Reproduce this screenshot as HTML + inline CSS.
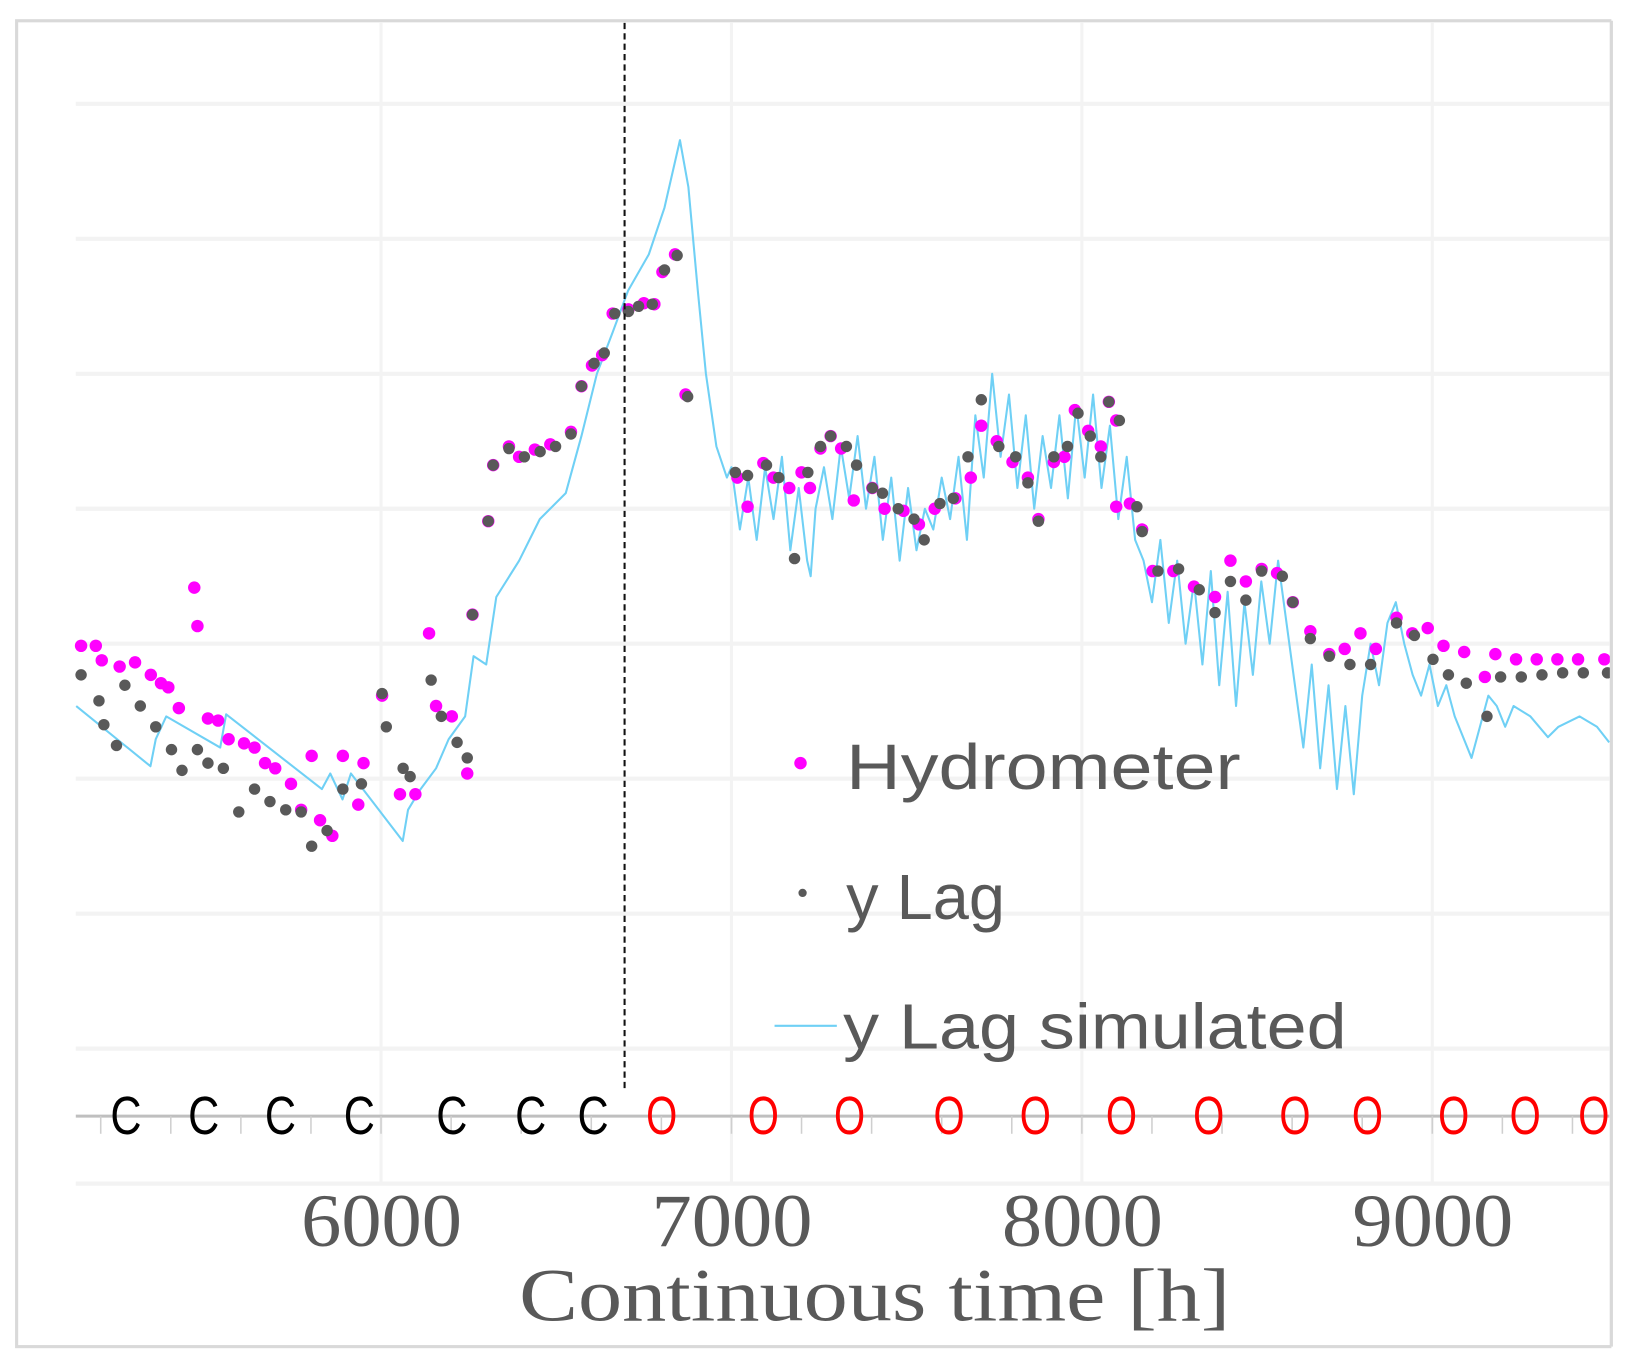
<!DOCTYPE html>
<html><head><meta charset="utf-8"><style>
html,body{margin:0;padding:0;background:#fff;}
svg{display:block;}
</style></head><body>
<svg id="chart" width="1628" height="1357" viewBox="0 0 1568 1307" preserveAspectRatio="none" xmlns="http://www.w3.org/2000/svg">
<rect x="16" y="20" width="1536" height="1277" fill="#fff" stroke="#d9d9d9" stroke-width="3"/>
<g id="grid"></g>
<g id="series"></g>
<g id="axis"></g>
<g id="legend">
<circle cx="771" cy="735" r="6" fill="#ff00ff"/>
<text x="815" y="760" font-family="Liberation Sans, sans-serif" font-size="62" fill="#595959" textLength="380" lengthAdjust="spacingAndGlyphs">Hydrometer</text>
<circle cx="773" cy="860" r="4" fill="#595959"/>
<text x="815" y="885" font-family="Liberation Sans, sans-serif" font-size="62" fill="#595959" textLength="153" lengthAdjust="spacingAndGlyphs">y Lag</text>
<line x1="746" y1="988" x2="806" y2="988" stroke="#6fd0f5" stroke-width="2"/>
<text x="812" y="1010" font-family="Liberation Sans, sans-serif" font-size="62" fill="#595959" textLength="485" lengthAdjust="spacingAndGlyphs">y Lag simulated</text>
</g>
</svg>
<script>
const NS='http://www.w3.org/2000/svg';
// ---- data ----
const xTicks=[6000,7000,8000,9000];
const xTickLabels=['6000','7000','8000','9000'];
const yGrid=[0,130,260,390,520,650,780,910,1040];
const simT=[5130,5342,5357,5387,5541,5558,5831,5855,5890,5914,6062,6077,6113,6157,6193,6240,6264,6300,6329,6394,6453,6527,6572,6616,6661,6705,6764,6809,6853,6877,6904,6927,6957,6987,
7000,7024,7048,7072,7096,7120,7144,7168,7192,7216,7226,7240,7264,7288,7312,7336,7360,7384,7408,7432,7456,7480,7504,7528,7552,7576,7600,7624,7648,7672,7696,7720,7744,7768,7792,7816,7840,7864,7888,7912,7936,7960,7984,8008,8032,8056,8080,8104,8128,8152,8176,8200,8224,8248,8272,8296,8320,8344,8368,8392,8416,8440,8464,8488,8512,8536,8560,8584,8608,8632,8656,8680,8704,8728,8752,8776,8800,8824,8848,8872,8896,8920,8944,8968,8992,9016,9040,9064,9088,9112,9136,9160,9184,9208,9232,9280,9330,9360,9420,9470,9505];
const simV=[460,402,428,450,420,452,380,395,370,395,330,360,380,400,428,450,508,500,565,600,640,665,720,780,820,860,895,940,1005,960,860,780,710,680,
690,630,680,620,690,640,700,610,670,600,585,650,690,640,710,660,720,650,700,620,680,600,670,610,650,630,680,640,700,620,740,680,780,700,760,670,740,650,720,670,740,660,750,680,760,670,730,640,700,620,600,560,620,540,600,520,580,500,590,480,570,460,560,490,580,520,600,540,480,420,500,400,480,380,460,375,470,520,480,540,560,520,490,470,500,460,480,450,430,410,440,470,460,440,460,450,430,440,450,440,425];
const hydT=[5144,5186,5203,5254,5298,5343,5372,5393,5423,5467,5476,5506,5535,5565,5609,5639,5669,5698,5743,5772,5802,5826,5861,5891,5935,5950,6003,6054,6098,6137,6157,6202,6246,6261,6306,6320,6365,6394,6439,6483,6542,6572,6602,6631,6661,6706,6750,6780,6803,6839,6869,7017,7046,7091,7120,7165,7200,7224,7254,7283,7313,7349,7402,7437,7491,7535,7580,7639,7683,7713,7757,7802,7846,7876,7920,7950,7980,8018,8054,8077,8098,8098,8137,8172,8202,8261,8320,8380,8424,8468,8513,8557,8602,8652,8706,8750,8795,8839,8898,8943,8987,9032,9091,9150,9180,9239,9298,9357,9416,9491];
const hydV=[518,518,504,498,502,490,482,478,458,574,537,448,446,428,424,420,405,400,385,360,412,350,335,412,365,405,470,375,375,530,460,450,395,548,638,692,710,700,707,712,724,768,788,798,838,842,848,847,878,895,760,680,652,694,680,670,685,670,708,720,708,658,670,650,648,635,650,660,680,730,715,695,680,640,695,700,745,725,710,753,735,652,655,630,590,590,575,565,600,580,592,588,560,532,510,515,530,515,545,530,535,518,512,488,510,505,505,505,505,505];
const lagT=[5144,5195,5209,5245,5269,5313,5357,5402,5432,5476,5506,5550,5594,5639,5683,5728,5772,5802,5846,5891,5944,6003,6015,6063,6083,6143,6172,6217,6246,6261,6306,6320,6365,6409,6454,6498,6542,6572,6608,6637,6667,6706,6735,6774,6809,6845,6875,7011,7046,7100,7135,7180,7218,7254,7283,7328,7357,7402,7431,7476,7521,7550,7595,7633,7675,7713,7763,7811,7846,7876,7920,7959,7989,8024,8054,8077,8107,8157,8172,8217,8276,8335,8380,8424,8468,8513,8572,8602,8652,8706,8765,8824,8898,8949,9002,9046,9097,9156,9195,9254,9313,9372,9431,9500];
const lagV=[490,465,442,422,480,460,440,418,398,418,405,400,358,380,368,360,358,325,340,380,385,472,440,400,392,485,450,425,410,548,638,692,708,700,705,710,722,768,790,800,838,840,845,847,880,894,758,685,682,692,680,602,685,710,720,710,692,670,665,650,640,620,655,660,700,755,710,700,675,638,700,710,742,720,700,753,735,652,628,590,592,572,550,580,562,590,585,560,525,508,500,500,540,528,505,490,482,450,488,488,490,492,492,492]; 
const coT=[5272,5494,5713,5938,6202,6427,6605,6801,7091,7337,7621,7867,8113,8362,8608,8815,9061,9265,9461];
const coState=['C','C','C','C','C','C','C','O','O','O','O','O','O','O','O','O','O','O','O'];
const minorTicks=[5200,5400,5600,5800,6000,6200,6400,6600,6800,7000,7200,7400,7600,7800,8000,8200,8400,8600,8800,9000,9200,9400];
const switchTime=6695;
// ---- scales ----
const X=t=>367+(t-6000)*0.3375;
const Y=v=>1140-v;
const PL=73,PR=1550;
function mk(tag,attrs,parent){const e=document.createElementNS(NS,tag);for(const k in attrs)e.setAttribute(k,attrs[k]);parent.appendChild(e);return e;}
const grid=document.getElementById('grid'),series=document.getElementById('series'),axis=document.getElementById('axis');
yGrid.forEach(v=>{const l=mk('line',{x1:PL,x2:PR,y1:Y(v),y2:Y(v),stroke:'#f3f3f3','stroke-width':4},grid);

});
xTicks.forEach(t=>{const l=mk('line',{x1:X(t),x2:X(t),y1:22,y2:1140,stroke:'#f3f3f3','stroke-width':3},grid);

});
// simulated line
let d='';simT.forEach((t,i)=>{d+=(i?'L':'M')+X(t).toFixed(1)+','+Y(simV[i]).toFixed(1);});
const pl=mk('path',{d:d,fill:'none',stroke:'#6fd0f5','stroke-width':2,'stroke-linejoin':'round'},series);


hydT.forEach((t,i)=>{const c=mk('circle',{cx:X(t),cy:Y(hydV[i]),r:6,fill:'#ff00ff'},series);

});
lagT.forEach((t,i)=>{const c=mk('circle',{cx:X(t),cy:Y(lagV[i]),r:5.5,fill:'#595959'},series);

});
// dashed switch line
const dl=mk('line',{x1:X(switchTime),x2:X(switchTime),y1:22,y2:1048,stroke:'#111','stroke-width':2,'stroke-dasharray':'6,4'},series);


// axis
const al=mk('line',{x1:PL,x2:PR,y1:1075,y2:1075,stroke:'#bfbfbf','stroke-width':3},axis);


minorTicks.forEach(t=>{const l=mk('line',{x1:X(t),x2:X(t),y1:1075,y2:1092,stroke:'#cfcfcf','stroke-width':1.5},axis);

});
coT.forEach((t,i)=>{const x=X(t);if(x>PR+14)return;
const tx=mk('text',{x:x-15,y:1092,'font-family':'Liberation Sans, sans-serif','font-size':52,fill:coState[i]==='C'?'#000':'#ff0000',textLength:30,lengthAdjust:'spacingAndGlyphs'},axis);
tx.textContent=coState[i];

});
xTicks.forEach((t,i)=>{const tx=mk('text',{x:X(t)-77,y:1200,'font-family':'Liberation Serif, serif','font-size':72,fill:'#595959',textLength:155,lengthAdjust:'spacingAndGlyphs'},axis);
tx.textContent=xTickLabels[i];

});
const tt=mk('text',{x:500,y:1272,'font-family':'Liberation Serif, serif','font-size':72,fill:'#595959',textLength:685,lengthAdjust:'spacingAndGlyphs'},axis);
tt.textContent='Continuous time [h]';


// cover overflow outside the plot on the right
const cov=mk('rect',{x:1552,y:0,width:16,height:1307,fill:'#fff'},axis);


const br=mk('line',{x1:1552,x2:1552,y1:20,y2:1297,stroke:'#d9d9d9','stroke-width':3},axis);


</script>
</body></html>
